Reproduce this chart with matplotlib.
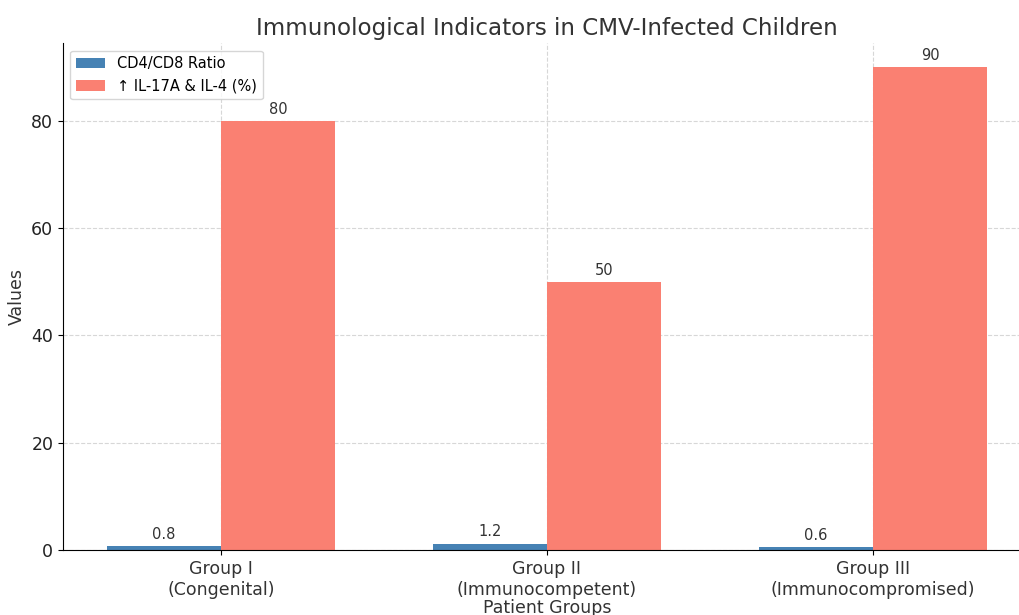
import numpy as np
from matplotlib import pyplot as plt

groups = ["Group I\n(Congenital)", "Group II\n(Immunocompetent)", "Group III\n(Immunocompromised)"]
cd4_cd8_ratio = [0.8, 1.2, 0.6]
il_increase = [80, 50, 90]

x = np.arange(len(groups))
width = 0.35

fig = plt.figure(figsize=(10.19, 6.15), dpi=100)
ax = fig.add_axes([0.0618, 0.1057, 0.950, 0.824])

bars1 = ax.bar(x - width / 2, cd4_cd8_ratio, width, label="CD4/CD8 Ratio", color="steelblue")
bars2 = ax.bar(x + width / 2, il_increase, width, label="\u2191 IL-17A & IL-4 (%)", color="salmon")

ax.bar_label(bars1, padding=3, fontsize=10.5, color="#333333")
ax.bar_label(bars2, padding=3, fontsize=10.5, color="#333333")

ax.set_xticks(x)
ax.set_xticklabels(groups, fontsize=12.5, color="#333333")
ax.tick_params(axis="y", labelsize=12.5, labelcolor="#222222")
ax.set_xlabel("Patient Groups", fontsize=12.5, color="#333333", labelpad=0)
ax.set_ylabel("Values", fontsize=12.5, color="#333333")
ax.set_title("Immunological Indicators in CMV-Infected Children", fontsize=16.6, color="#333333", pad=6)

ax.grid(True, linestyle="--", alpha=0.5)
ax.set_axisbelow(True)
ax.spines["top"].set_visible(False)
ax.spines["right"].set_visible(False)

ax.legend(loc="upper left", fontsize=10.5)

fig.savefig("out.png", dpi=100)
